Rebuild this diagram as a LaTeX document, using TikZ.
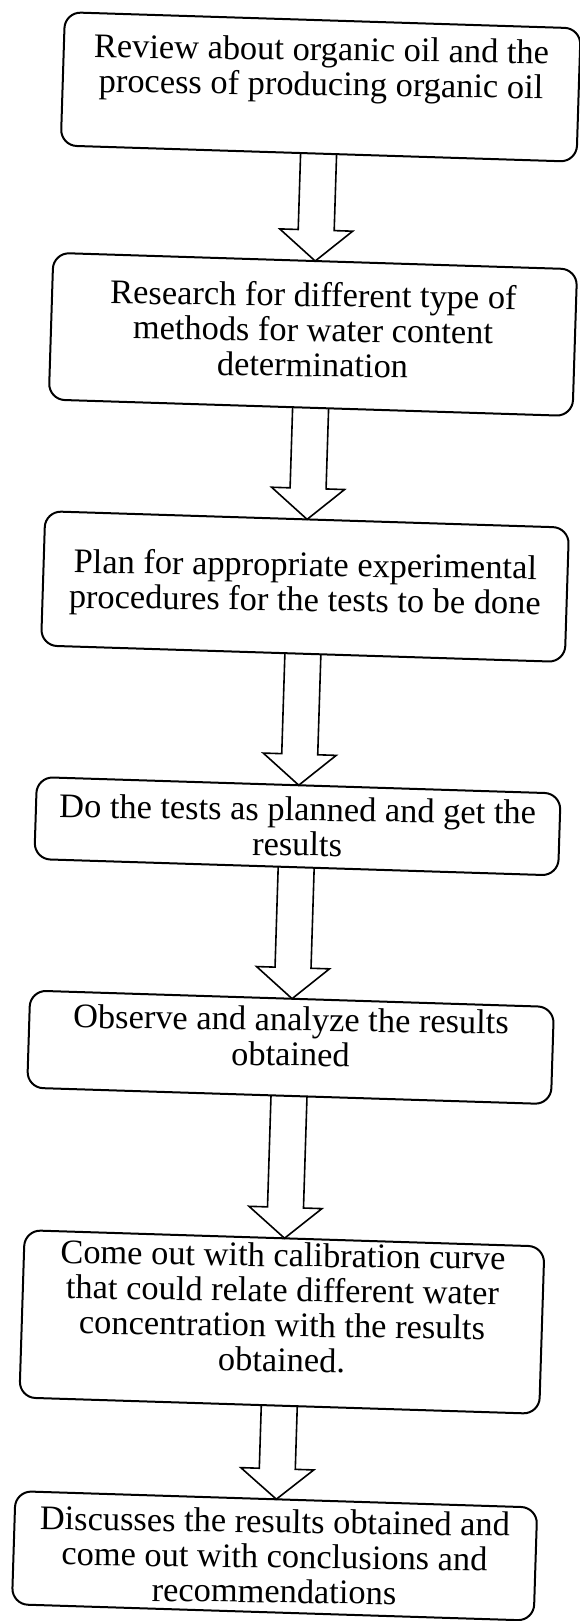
\documentclass[tikz,border=0pt]{standalone}
\usepackage{fontspec}
\usepackage{graphicx}
\setmainfont{Liberation Serif}
\newcommand\boxtxt[2][0pt]{\raisebox{-#1}[\height][\depth]{\rotatebox{1}{\begin{tabular}{@{}c@{}}#2\end{tabular}}}}
\tikzset{
  box/.style={draw, line width=1pt, rounded corners=8pt, align=center,
    inner sep=0pt, outer sep=0pt, font=\fontsize{17.2}{17.5}\selectfont},
  blockarrow/.style={draw, line width=0.8pt, line join=miter}
}
\newcommand\blkarrow[4]{%
  \coordinate (a#1l) at (280,-#2);
  \coordinate (a#1lb) at (280,-#3);
  \coordinate (a#1lh) at (261.5,-#3);
  \coordinate (a#1rh) at (334.5,-#3);
  \coordinate (a#1rb) at (316,-#3);
  \coordinate (a#1r) at (316,-#2);
  \draw[blockarrow] (a#1l) -- (a#1lb) -- (a#1lh) -- (#4.north) -- (a#1rh) -- (a#1rb) -- (a#1r);
}
\begin{document}
\begin{tikzpicture}[x=0.5pt,y=0.5pt]
\fill[white] (0,0) rectangle (579,-1621);
\useasboundingbox (0,0) rectangle (579,-1621);
\begin{scope}[rotate around={-1.8:(290,-810)}, transform shape]
\node[box, minimum width=258pt, minimum height=66.7pt] (b1) at (298,-86.3)
  {\boxtxt[-8pt]{Review about organic oil and the\\process of producing organic oil}};
\node[box, minimum width=262pt, minimum height=73.4pt] (b2) at (298,-333.9)
  {\boxtxt{Research for different type of\\methods for water content\\determination}};
\node[box, minimum width=262pt, minimum height=67.2pt] (b3) at (298,-586.2)
  {\boxtxt{Plan for appropriate experimental\\procedures for the tests to be done}};
\node[box, minimum width=262pt, minimum height=41pt] (b4) at (298,-826)
  {\boxtxt[2.5pt]{Do the tests as planned and get the\\results}};
\node[box, minimum width=262pt, minimum height=48.6pt] (b5) at (298,-1047.2)
  {\boxtxt[-3pt]{Observe and analyze the results\\obtained}};
\node[box, minimum width=260pt, minimum height=83.7pt] (b6) at (298,-1322)
  {\boxtxt[-5pt]{Come out with calibration curve\\that could relate different water\\concentration with the results\\obtained.}};
\node[box, minimum width=261pt, minimum height=56pt] (b7) at (298,-1556)
  {\boxtxt[2.5pt]{Discusses the results obtained and\\come out with conclusions and\\recommendations}};
\blkarrow{1}{153}{229.5}{b2}
\blkarrow{2}{407.3}{488}{b3}
\blkarrow{3}{653.4}{754}{b4}
\blkarrow{4}{867}{967.6}{b5}
\blkarrow{5}{1095.8}{1207.5}{b6}
\blkarrow{6}{1406}{1469}{b7}
\end{scope}
\end{tikzpicture}
\end{document}
